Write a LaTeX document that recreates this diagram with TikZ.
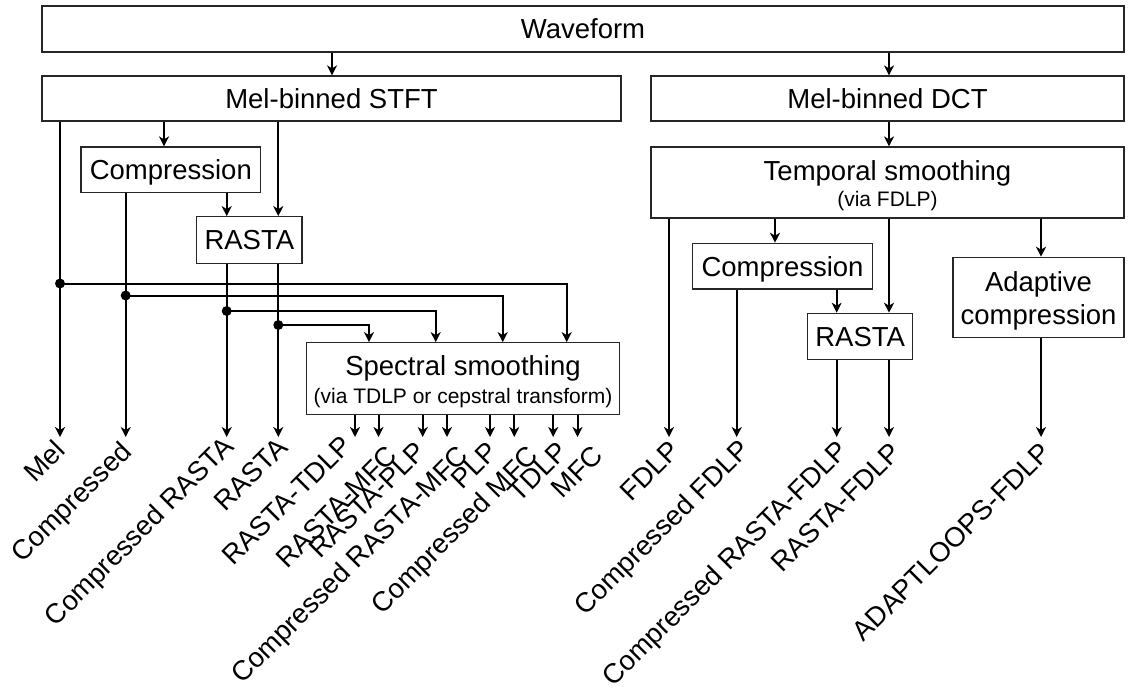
\documentclass[tikz,border=0pt]{standalone}
\usepackage{fontspec}
\setmainfont{Liberation Sans}
\usetikzlibrary{arrows.meta}
\begin{document}
\begin{tikzpicture}[x=1pt,y=-1pt,
  box/.style={draw=black!85, line width=1.2pt, inner sep=0pt,
    font=\fontsize{27.5}{33}\selectfont, text height=19.7pt, text depth=0pt},
  conn/.style={line width=2pt, -{Stealth[length=10pt,width=10pt,inset=3pt]}},
  wire/.style={line width=2pt},
  lbl/.style={rotate=45, anchor=north east, inner sep=0pt,
    font=\fontsize{27.5}{33}\selectfont, text height=19.8pt, text depth=0pt},
  jdot/.style={circle, fill=black, inner sep=0pt, minimum size=10pt},
  maintxt/.style={font=\fontsize{27.5}{33}\selectfont, inner sep=0pt, anchor=base},
  subtxt/.style={font=\fontsize{21}{25}\selectfont, inner sep=0pt, anchor=base}]
\useasboundingbox (0,0) rectangle (1129,689);

% ---------- boxes ----------
\node[box, minimum width=1082pt, minimum height=46pt] (wave) at (583,29) {Waveform};
\node[box, minimum width=579pt, minimum height=45pt] (stft) at (331.5,98.5) {Mel-binned STFT};
\node[box, minimum width=473pt, minimum height=45pt] (dct) at (887.5,98.5) {Mel-binned DCT};
\node[box, minimum width=179.7pt, minimum height=45.3pt] (compA) at (170.85,169.65) {Compression};
\node[box, minimum width=105.3pt, minimum height=46.6pt] (rastaA) at (249.35,240) {RASTA};
\node[box, minimum width=312.6pt, minimum height=71.6pt] (spec) at (463,378.5) {};
\node[maintxt] (specT) at (463,375.5) {Spectral smoothing};
\node[subtxt] (specS) at (463,403) {(via TDLP or cepstral transform)};
\node[box, minimum width=473pt, minimum height=71pt] (temp) at (887.5,182.5) {};
\node[maintxt] (tempT) at (887.5,180) {Temporal smoothing};
\node[subtxt] (tempS) at (887.5,206.5) {(via FDLP)};
\node[box, minimum width=179.6pt, minimum height=45.7pt] (compB) at (782.5,266.15) {Compression};
\node[box, minimum width=105pt, minimum height=46pt] (rastaB) at (860.2,336.3) {RASTA};
\node[box, minimum width=171pt, minimum height=80.4pt] (adapt) at (1038.5,297.5) {};
\node[maintxt] (adaptT) at (1038.5,291.5) {Adaptive};
\node[maintxt] (adaptS) at (1038.5,324) {compression};

% ---------- x positions ----------
\coordinate (xW1) at (332,0);
\coordinate (xW2) at (889,0);
\coordinate (xMel) at (60,0);
\coordinate (xCA) at (164,0);
\coordinate (xCmp) at (125.7,0);
\coordinate (xCR) at (226.7,0);
\coordinate (xR) at (278.3,0);
\coordinate (xS1) at (566.7,0);
\coordinate (xS2) at (502.7,0);
\coordinate (xS3) at (435.7,0);
\coordinate (xS4) at (369,0);
\coordinate (xF) at (669,0);
\coordinate (xCB) at (775,0);
\coordinate (xCF) at (736.7,0);
\coordinate (xCRF) at (836.7,0);
\coordinate (xRF) at (889,0);
\coordinate (xAD) at (1041,0);

% ---------- output tips ----------
\coordinate (tMel) at (60,437);
\coordinate (tCmp) at (125.7,437);
\coordinate (tCR) at (226.7,437);
\coordinate (tR) at (278.3,437);
\coordinate (t1) at (355,437);
\coordinate (t2) at (378.5,437);
\coordinate (t3) at (422.7,437);
\coordinate (t4) at (447,437);
\coordinate (t5) at (490,437);
\coordinate (t6) at (514.3,437);
\coordinate (t7) at (553.2,437);
\coordinate (t8) at (577.5,437);
\coordinate (tF) at (669,437);
\coordinate (tCF) at (736.7,437);
\coordinate (tCRF) at (836.7,437);
\coordinate (tRF) at (889,437);
\coordinate (tAD) at (1041,437);

% ---------- junctions ----------
\coordinate (j1) at (60,283.5);
\coordinate (j2) at (125.7,295.5);
\coordinate (j3) at (226.7,311);
\coordinate (j4) at (278.3,325);

% ---------- connectors: top ----------
\draw[conn] (wave.south -| xW1) -- (stft.north -| xW1);
\draw[conn] (wave.south -| xW2) -- (dct.north -| xW2);
\draw[conn] (stft.south -| xCA) -- (compA.north -| xCA);
\draw[conn] (stft.south -| xR) -- (rastaA.north -| xR);
\draw[conn] (compA.south -| xCR) -- (rastaA.north -| xCR);
\draw[conn] (dct.south -| xW2) -- (temp.north -| xW2);

% left outputs
\draw[conn] (stft.south -| xMel) -- (tMel);
\draw[conn] (compA.south -| xCmp) -- (tCmp);
\draw[conn] (rastaA.south -| xCR) -- (tCR);
\draw[conn] (rastaA.south -| xR) -- (tR);

% junction branches to spectral smoothing
\draw[conn] (j1) -| (spec.north -| xS1);
\draw[conn] (j2) -| (spec.north -| xS2);
\draw[conn] (j3) -| (spec.north -| xS3);
\draw[conn] (j4) -| (spec.north -| xS4);

% spectral outputs
\foreach \t in {t1,t2,t3,t4,t5,t6,t7,t8}
  \draw[conn] (spec.south -| \t) -- (\t);

% right side
\draw[conn] (temp.south -| xF) -- (tF);
\draw[conn] (temp.south -| xCB) -- (compB.north -| xCB);
\draw[conn] (compB.south -| xCF) -- (tCF);
\draw[conn] (compB.south -| xCRF) -- (rastaB.north -| xCRF);
\draw[conn] (temp.south -| xRF) -- (rastaB.north -| xRF);
\draw[conn] (rastaB.south -| xCRF) -- (tCRF);
\draw[conn] (rastaB.south -| xRF) -- (tRF);
\draw[conn] (temp.south -| xAD) -- (adapt.north -| xAD);
\draw[conn] (adapt.south -| xAD) -- (tAD);

% junction dots
\node[jdot] (d1) at (j1) {};
\node[jdot] (d2) at (j2) {};
\node[jdot] (d3) at (j3) {};
\node[jdot] (d4) at (j4) {};

% ---------- labels ----------
\node[lbl] (lMel) at (53,438) {Mel};
\node[lbl] (lCmp) at (119,439) {Compressed};
\node[lbl] (lCR) at (221,434) {Compressed RASTA};
\node[lbl] (lR) at (275,435) {RASTA};
\node[lbl] (l1) at (339,433) {RASTA-TDLP};
\node[lbl] (l2) at (385,443) {RASTA-MFC};
\node[lbl] (l3) at (413,439) {RASTA-PLP};
\node[lbl] (l4) at (456,443) {Compressed RASTA-MFC};
\node[lbl] (l5) at (485,439) {PLP};
\node[lbl] (l6) at (526,443) {Compressed MFC};
\node[lbl] (l7) at (555,439) {TDLP};
\node[lbl] (l8) at (591,443) {MFC};
\node[lbl] (lF) at (667,438) {FDLP};
\node[lbl] (lCF) at (737,437) {Compressed FDLP};
\node[lbl] (lCRF) at (835,438) {Compressed RASTA-FDLP};
\node[lbl] (lRF) at (888,440) {RASTA-FDLP};
\node[lbl] (lAD) at (1038,440) {ADAPTLOOPS-FDLP};
\end{tikzpicture}
\end{document}
